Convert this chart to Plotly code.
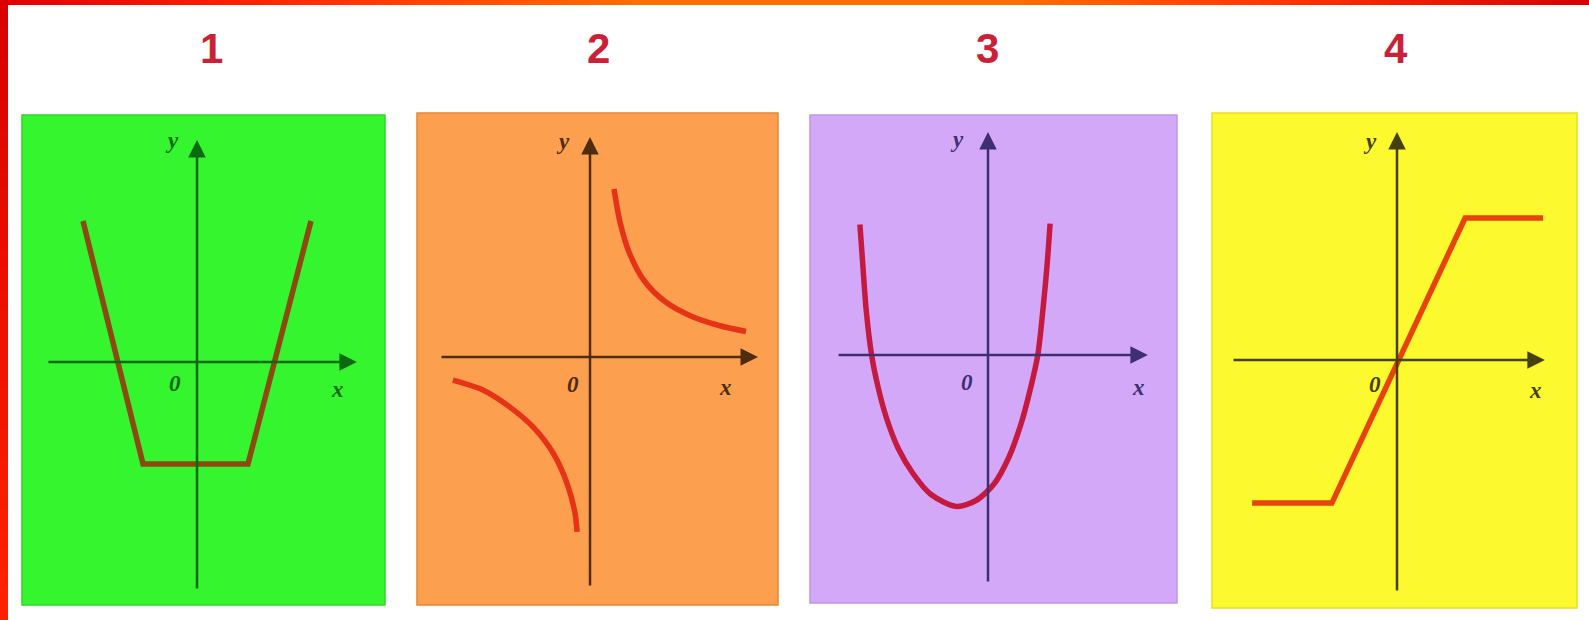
import plotly.graph_objects as go

# panel titles
titles = ["1", "2", "3", "4"]

# graph 1: broken line, trapezoid shape (units from the picture)
g1_x = [-3.8, -1.8, 1.7, 3.8]
g1_y = [4.7, -3.4, -3.4, 4.7]

# graph 2: hyperbola, two branches
g2_top_x = [0.8, 1.0, 1.3, 1.8, 2.5, 3.4, 4.3, 5.2]
g2_top_y = [5.6, 4.5, 3.5, 2.55, 1.85, 1.35, 1.05, 0.85]
g2_bot_x = [-4.57, -3.57, -2.67, -1.9, -1.23, -0.77, -0.5, -0.43]
g2_bot_y = [-0.77, -1.1, -1.67, -2.33, -3.2, -4.2, -5.2, -5.83]

# graph 3: parabola-like curve
g3_x = [-4.27, -4.18, -4.06, -3.88, -3.68, -3.4, -3.0, -2.5, -1.9, -1.05,
        -0.4, 0.2, 0.7, 1.1, 1.42, 1.66, 1.84, 1.97, 2.07]
g3_y = [4.35, 3.1, 1.5, 0.0, -1.0, -2.05, -3.1, -3.95, -4.65, -5.05,
        -4.85, -4.3, -3.4, -2.3, -1.1, 0.0, 1.6, 3.0, 4.38]

# graph 4: saturation line
g4_x = [-4.83, -2.17, 2.27, 4.87]
g4_y = [-4.77, -4.77, 4.73, 4.73]

W, H = 1589, 620
U = 30.0  # pixels per unit

# panel boxes (left, right, top, bottom) and origin in pixels
boxes = [(22, 385, 115, 605), (417, 778, 113, 605),
         (810, 1177, 115, 603), (1212, 1577, 113, 608)]
origins = [(197, 362), (590, 357), (988, 355), (1397, 360)]
title_x = [211, 598, 988, 1396]
# axis extents in units: (x_left, x_right, y_bottom, y_top)
axes_ext = [(-5.0, 5.33, -7.6, 7.4), (-5.0, 5.6, -7.67, 7.33),
            (-5.03, 5.33, -7.6, 7.43), (-5.5, 4.93, -7.73, 7.6)]
# label positions in units: y, 0, x
label_pos = [[(-0.83, 7.4), (-0.73, -0.7), (4.67, -0.93)],
             [(-0.9, 7.2), (-0.57, -0.93), (4.5, -1.03)],
             [(-1.03, 7.2), (-0.7, -0.93), (5.0, -1.07)],
             [(-0.9, 7.3), (-0.73, -0.83), (4.6, -1.0)]]

bg_colors = ["#35f52f", "#fca04f", "#d4a8f8", "#fcf92e"]
edge_colors = ["#2ed82a", "#e0883a", "#c095e6", "#e6e022"]
axis_colors = ["#0b6a10", "#4f2c0e", "#3e2f72", "#45410e"]
curve_colors = ["#8c4a12", "#e63217", "#c41a40", "#e8420e"]

fig = go.Figure()

curves = [
    [(g1_x, g1_y, "linear")],
    [(g2_top_x, g2_top_y, "spline"), (g2_bot_x, g2_bot_y, "spline")],
    [(g3_x, g3_y, "spline")],
    [(g4_x, g4_y, "linear")],
]

shapes = []
annotations = []

for i in range(4):
    n = "" if i == 0 else str(i + 1)
    xr, yr = "x" + n, "y" + n
    left, right, top, bottom = boxes[i]
    ox, oy = origins[i]

    fig.update_layout({
        "xaxis" + n: dict(domain=[left / W, right / W],
                          range=[(left - ox) / U, (right - ox) / U],
                          visible=False, fixedrange=True, anchor=yr),
        "yaxis" + n: dict(domain=[1 - bottom / H, 1 - top / H],
                          range=[(oy - bottom) / U, (oy - top) / U],
                          visible=False, fixedrange=True, anchor=xr),
    })

    shapes.append(dict(type="rect", xref="paper", yref="paper",
                       x0=left / W, x1=right / W, y0=1 - bottom / H, y1=1 - top / H,
                       fillcolor=bg_colors[i], line=dict(color=edge_colors[i], width=1.5),
                       layer="below"))

    for cx, cy, shp in curves[i]:
        fig.add_trace(go.Scatter(x=cx, y=cy, mode="lines", xaxis=xr, yaxis=yr,
                                 line=dict(color=curve_colors[i], width=5.5, shape=shp,
                                           smoothing=0.8),
                                 hoverinfo="skip", showlegend=False))

    # coordinate axes with arrows
    xl, xrt, yb, yt = axes_ext[i]
    annotations.append(dict(x=xrt, y=0, ax=xl, ay=0, xref=xr, yref=yr, axref=xr, ayref=yr,
                            text="", showarrow=True, arrowhead=2, arrowsize=1.4,
                            arrowwidth=2.5, arrowcolor=axis_colors[i], standoff=0))
    annotations.append(dict(x=0, y=yt, ax=0, ay=yb, xref=xr, yref=yr, axref=xr, ayref=yr,
                            text="", showarrow=True, arrowhead=2, arrowsize=1.4,
                            arrowwidth=2.5, arrowcolor=axis_colors[i], standoff=0))

    for (lx, ly), txt in zip(label_pos[i], ["y", "0", "x"]):
        annotations.append(dict(x=lx, y=ly, xref=xr, yref=yr, text=txt, showarrow=False,
                                xanchor="center", yanchor="middle",
                                font=dict(family="Liberation Serif", size=23,
                                          color=axis_colors[i], style="italic",
                                          weight="bold")))

    annotations.append(dict(x=title_x[i] / W, y=1 - 49 / H, xref="paper", yref="paper",
                            text=titles[i], showarrow=False,
                            xanchor="center", yanchor="middle",
                            font=dict(family="Liberation Sans", size=42,
                                      color="#cc2036", weight="bold")))


# red frame: top strip with a red-orange-red ramp, left strip red
def mix(c1, c2, t):
    a = [int(c1[k:k + 2], 16) for k in (1, 3, 5)]
    b = [int(c2[k:k + 2], 16) for k in (1, 3, 5)]
    return "#%02x%02x%02x" % tuple(round(a[j] + (b[j] - a[j]) * t) for j in range(3))


stops = [(0, "#e00000"), (300, "#ff2c00"), (650, "#ff7000"), (1000, "#ff7000"),
         (1250, "#ff3c00"), (1589, "#d60000")]
step = 10
for x0 in range(0, W, step):
    xm = x0 + step / 2
    for (p0, c0), (p1, c1) in zip(stops[:-1], stops[1:]):
        if p0 <= xm <= p1:
            col = mix(c0, c1, (xm - p0) / (p1 - p0))
            break
    shapes.append(dict(type="rect", xref="paper", yref="paper",
                       x0=x0 / W, x1=min(x0 + step + 1, W) / W, y0=1 - 5 / H, y1=1,
                       fillcolor=col, line=dict(width=0), layer="above"))

for y0 in range(0, H, step):
    col = mix("#d80000", "#ff2400", y0 / H)
    shapes.append(dict(type="rect", xref="paper", yref="paper",
                       x0=0, x1=8 / W, y0=1 - min(y0 + step + 1, H) / H, y1=1 - y0 / H,
                       fillcolor=col, line=dict(width=0), layer="above"))

fig.update_layout(
    width=W, height=H,
    margin=dict(l=0, r=0, t=0, b=0),
    paper_bgcolor="white", plot_bgcolor="rgba(0,0,0,0)",
    shapes=shapes, annotations=annotations,
    showlegend=False,
)

fig.write_html("out.html", config={"displayModeBar": False},
               post_script="document.body.style.margin='0px';document.body.style.overflow='hidden';")
